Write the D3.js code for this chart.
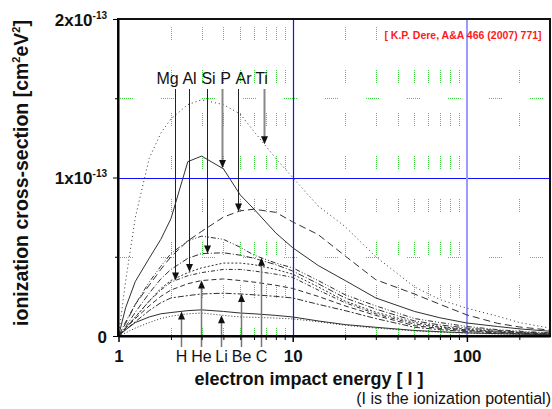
<!DOCTYPE html>
<html>
<head>
<meta charset="utf-8">
<script src="https://cdn.jsdelivr.net/npm/d3@7"></script>
<style>
  body { margin: 0; background: #fff; }
  svg { display: block; font-family: Arial, "Liberation Sans", sans-serif; }
</style>
</head>
<body>
<div id="chart"></div>
<script>
// energies in units of the ionization potential I
const energies = [1, 1.1, 1.25, 1.5, 1.75, 2, 2.5, 3, 4, 5, 6, 8, 10, 14, 20, 30, 50, 70, 100, 150, 200, 300];

// scaled cross-sections, units of 1e-13 cm^2 eV^2
const tiValues = [0, 0.35, 0.75, 1.12, 1.28, 1.37, 1.46, 1.49, 1.46, 1.40, 1.29, 1.12, 1.0, 0.82, 0.69, 0.5, 0.31, 0.23, 0.175, 0.125, 0.085, 0.05];
const pValues  = [0, 0.18, 0.345, 0.49, 0.61, 0.74, 1.10, 1.135, 1.055, 0.89, 0.80, 0.65, 0.557, 0.445, 0.35, 0.24, 0.155, 0.115, 0.082, 0.06, 0.045, 0.03];
const arValues = [0, 0.08, 0.2, 0.32, 0.42, 0.5, 0.60, 0.66, 0.75, 0.79, 0.80, 0.78, 0.72, 0.64, 0.505, 0.355, 0.265, 0.2, 0.133, 0.08, 0.057, 0.037];
const cValues  = [0, 0.09, 0.2, 0.34, 0.44, 0.52, 0.60, 0.63, 0.61, 0.56, 0.51, 0.46, 0.43, 0.35, 0.26, 0.19, 0.11, 0.085, 0.06, 0.04, 0.03, 0.02];
const siValues = [0, 0.06, 0.15, 0.27, 0.36, 0.42, 0.49, 0.52, 0.525, 0.51, 0.49, 0.45, 0.41, 0.33, 0.24, 0.17, 0.095, 0.07, 0.05, 0.035, 0.025, 0.017];
const alValues = [0, 0.05, 0.12, 0.22, 0.3, 0.35, 0.40, 0.43, 0.46, 0.46, 0.45, 0.42, 0.39, 0.31, 0.22, 0.15, 0.085, 0.06, 0.042, 0.03, 0.022, 0.015];
const mgValues = [0, 0.05, 0.12, 0.22, 0.29, 0.34, 0.38, 0.40, 0.42, 0.42, 0.41, 0.39, 0.37, 0.29, 0.21, 0.14, 0.075, 0.055, 0.038, 0.027, 0.02, 0.013];
const heValues = [0, 0.05, 0.11, 0.19, 0.25, 0.29, 0.33, 0.35, 0.36, 0.35, 0.34, 0.32, 0.30, 0.25, 0.19, 0.13, 0.065, 0.048, 0.033, 0.024, 0.018, 0.012];
const beValues = [0, 0.04, 0.09, 0.16, 0.21, 0.24, 0.255, 0.265, 0.27, 0.265, 0.26, 0.25, 0.24, 0.2, 0.16, 0.11, 0.055, 0.04, 0.028, 0.02, 0.015, 0.01];
const hValues  = [0, 0.04, 0.085, 0.12, 0.14, 0.148, 0.16, 0.165, 0.155, 0.145, 0.14, 0.13, 0.12, 0.095, 0.072, 0.055, 0.035, 0.027, 0.02, 0.015, 0.012, 0.008];
const liValues = [0, 0.02, 0.05, 0.085, 0.11, 0.125, 0.14, 0.145, 0.13, 0.12, 0.118, 0.113, 0.108, 0.09, 0.068, 0.05, 0.032, 0.024, 0.018, 0.013, 0.01, 0.007];

const elements = ["Ti", "P", "Ar", "C", "Si", "Al", "Mg", "He", "Be", "H", "Li"];
const valuesByElement = { Ti: tiValues, P: pValues, Ar: arValues, C: cValues, Si: siValues, Al: alValues, Mg: mgValues, He: heValues, Be: beValues, H: hValues, Li: liValues };

// arrows: element labels above and below, energy where each arrow sits
const topLabels = ["Mg", "Al", "Si", "P", "Ar", "Ti"];
const topArrowE = [2.11, 2.55, 3.22, 3.94, 4.87, 6.87];
const bottomLabels = ["H", "He", "Li", "Be", "C"];
const bottomArrowE = [2.27, 2.99, 3.89, 5.03, 6.6];

const xMajor = [1, 10, 100];
const xMinor = [2, 3, 4, 5, 6, 7, 8, 9, 20, 30, 40, 50, 60, 70, 80, 90, 200];
const yMajor = [0, 1, 2];
const yMinor = [0.5, 1.5];

// styles
const dashes = { Ti: "1,3", P: null, Ar: "7,4", C: "5,2,1,2,1,2", Si: "6,2,1,2", Al: "2,2", Mg: "4,2,1,2", He: "5,3", Be: "6,2,2,2", H: null, Li: "1,2" };
const topLabelDx = { Mg: -8, Al: 0, Si: 1, P: 3, Ar: 5, Ti: -3 };
const topArrowColor = { Mg: "#222", Al: "#222", Si: "#222", P: "#888", Ar: "#222", Ti: "#888" };
// dotted runs of 13px followed by a gap
const gridDashV = "1,1,1,1,1,1,1,1,1,1,1,1,1,30";
const gridDashH = "1,1,1,1,1,1,1,1,1,1,1,1,1,28";

const W = 552, H = 409;
const plotL = 118, plotR = 550, plotT = 19, plotB = 336;

const svg = d3.select("#chart").append("svg")
  .attr("width", W)
  .attr("height", H);

const x = d3.scaleLog().domain([1, 300]).range([plotL + 0.5, plotR]);
const y = d3.scaleLinear().domain([0, 2]).range([plotB, plotT]);

// green broken grid
svg.append("g")
  .selectAll("line")
  .data(xMinor)
  .join("line")
  .attr("x1", d => Math.round(x(d)) + 0.5)
  .attr("x2", d => Math.round(x(d)) + 0.5)
  .attr("y1", plotT)
  .attr("y2", plotB)
  .attr("stroke", "#3fd23f")
  .attr("stroke-width", 1)
  .attr("stroke-dasharray", gridDashV)
  .attr("stroke-dashoffset", 35);

svg.append("g")
  .selectAll("line")
  .data(yMinor)
  .join("line")
  .attr("x1", plotL)
  .attr("x2", plotR)
  .attr("y1", d => Math.round(y(d)) + 0.5)
  .attr("y2", d => Math.round(y(d)) + 0.5)
  .attr("stroke", "#3fd23f")
  .attr("stroke-width", 1)
  .attr("stroke-dasharray", gridDashH)
  .attr("stroke-dashoffset", 39);

// white box behind the reference note
svg.append("rect")
  .attr("x", 380).attr("y", 26)
  .attr("width", 166).attr("height", 17)
  .attr("fill", "#fff");

// blue reference lines
svg.append("line")
  .attr("x1", plotL).attr("x2", plotR)
  .attr("y1", Math.round(y(1)) + 0.5).attr("y2", Math.round(y(1)) + 0.5)
  .attr("stroke", "#1010ff").attr("stroke-width", 1.2);
svg.append("line")
  .attr("x1", Math.round(x(10)) + 0.5).attr("x2", Math.round(x(10)) + 0.5)
  .attr("y1", plotT).attr("y2", plotB)
  .attr("stroke", "#1010ff").attr("stroke-width", 1.2);
svg.append("line")
  .attr("x1", Math.round(x(100))).attr("x2", Math.round(x(100)))
  .attr("y1", plotT).attr("y2", plotB)
  .attr("stroke", "#9a9aff").attr("stroke-width", 2);

svg.append("text")
  .attr("x", 463).attr("y", 39)
  .attr("text-anchor", "middle")
  .attr("fill", "#ff1a1a")
  .attr("font-size", 10.5)
  .attr("font-weight", "bold")
  .text("[ K.P. Dere, A&A 466 (2007) 771]");

// curves
const line = d3.line()
  .x(d => x(d[0]))
  .y(d => y(d[1]));

svg.append("g")
  .selectAll("path")
  .data(elements)
  .join("path")
  .attr("d", name => line(energies.map((e, i) => [e, valuesByElement[name][i]])))
  .attr("fill", "none")
  .attr("stroke", "#303030")
  .attr("stroke-width", 1)
  .attr("stroke-dasharray", name => dashes[name]);

// value of an element's curve at a given energy (linear in log E)
function valueAt(name, e) {
  const s = d3.scaleLinear().domain(energies.map(Math.log)).range(valuesByElement[name]);
  return s(Math.log(e));
}

// top arrows (pointing down)
const topG = svg.append("g");
topLabels.forEach((name, i) => {
  const ax = Math.round(x(topArrowE[i])) + 0.5;
  const ty = y(valueAt(name, topArrowE[i]));
  const col = topArrowColor[name];
  topG.append("line")
    .attr("x1", ax).attr("x2", ax)
    .attr("y1", 89).attr("y2", ty - 4)
    .attr("stroke", col)
    .attr("stroke-width", col === "#888" ? 2 : 1);
  topG.append("path")
    .attr("d", `M${ax - 3.5},${ty - 8} L${ax + 3.5},${ty - 8} L${ax},${ty} Z`)
    .attr("fill", "#111");
  topG.append("text")
    .attr("x", ax + topLabelDx[name])
    .attr("y", 84)
    .attr("text-anchor", "middle")
    .attr("font-size", 16)
    .attr("fill", "#111")
    .text(name);
});

// bottom arrows (pointing up)
const botG = svg.append("g");
bottomLabels.forEach((name, i) => {
  const ax = Math.round(x(bottomArrowE[i])) + 0.5;
  const ty = y(valueAt(name, bottomArrowE[i]));
  botG.append("line")
    .attr("x1", ax).attr("x2", ax)
    .attr("y1", 347).attr("y2", ty + 4)
    .attr("stroke", "#777")
    .attr("stroke-width", 1.5);
  botG.append("path")
    .attr("d", `M${ax - 3.5},${ty + 8} L${ax + 3.5},${ty + 8} L${ax},${ty} Z`)
    .attr("fill", "#111");
  botG.append("text")
    .attr("x", ax)
    .attr("y", 362)
    .attr("text-anchor", "middle")
    .attr("font-size", 16)
    .attr("fill", "#111")
    .text(name);
});

// frame
svg.append("rect")
  .attr("x", plotL).attr("y", plotT)
  .attr("width", plotR - plotL).attr("height", plotB - plotT)
  .attr("fill", "none")
  .attr("stroke", "#111")
  .attr("stroke-width", 2);

// x axis
const xAxisG = svg.append("g")
  .attr("transform", `translate(0,${plotB})`)
  .call(d3.axisBottom(x).tickValues(xMajor).tickSize(6).tickSizeOuter(0).tickFormat(d3.format("d")));
xAxisG.select(".domain").attr("stroke-width", 2);
xAxisG.selectAll(".tick line").attr("stroke-width", 1.5);
xAxisG.selectAll(".tick text")
  .attr("y", 14)
  .attr("dy", "0.71em")
  .attr("font-size", 17)
  .attr("font-weight", "bold")
  .attr("font-family", "Arial, 'Liberation Sans', sans-serif")
  .attr("fill", "#111");

svg.append("g")
  .attr("transform", `translate(0,${plotB})`)
  .call(d3.axisBottom(x).tickValues(xMinor).tickSize(4).tickFormat(""))
  .call(g => g.select(".domain").remove());

// y axis
const yAxisG = svg.append("g")
  .attr("transform", `translate(${plotL},0)`)
  .call(d3.axisLeft(y).tickValues(yMajor).tickSize(5).tickSizeOuter(0).tickFormat(""));
yAxisG.select(".domain").attr("stroke-width", 2);
yAxisG.selectAll(".tick").each(function (d) {
  const t = d3.select(this).append("text")
    .attr("x", -11)
    .attr("dy", "0.36em")
    .attr("text-anchor", "end")
    .attr("fill", "#111")
    .attr("font-size", 17)
    .attr("font-weight", "bold")
    .attr("font-family", "Arial, 'Liberation Sans', sans-serif");
  if (d === 0) {
    t.text("0");
  } else {
    t.append("tspan").text(d + "x10");
    t.append("tspan").attr("dy", -7).attr("font-size", 10).text("-13");
  }
});

svg.append("g")
  .attr("transform", `translate(${plotL},0)`)
  .call(d3.axisLeft(y).tickValues(yMinor).tickSize(3).tickFormat(""))
  .call(g => g.select(".domain").remove());

// axis titles
const yTitle = svg.append("text")
  .attr("transform", "translate(28,173) rotate(-90)")
  .attr("text-anchor", "middle")
  .attr("font-size", 19.5)
  .attr("font-weight", "bold")
  .attr("fill", "#111");
yTitle.append("tspan").text("ionization cross-section [cm");
yTitle.append("tspan").attr("dy", -8).attr("font-size", 11).text("2");
yTitle.append("tspan").attr("dy", 8).text("eV");
yTitle.append("tspan").attr("dy", -8).attr("font-size", 11).text("2");
yTitle.append("tspan").attr("dy", 8).text("]");

svg.append("text")
  .attr("x", 309).attr("y", 385)
  .attr("text-anchor", "middle")
  .attr("font-size", 18)
  .attr("font-weight", "bold")
  .attr("fill", "#111")
  .text("electron impact energy [ I ]");

svg.append("text")
  .attr("x", 551).attr("y", 404)
  .attr("text-anchor", "end")
  .attr("font-size", 16)
  .attr("fill", "#111")
  .text("(I is the ionization potential)");
</script>
</body>
</html>
